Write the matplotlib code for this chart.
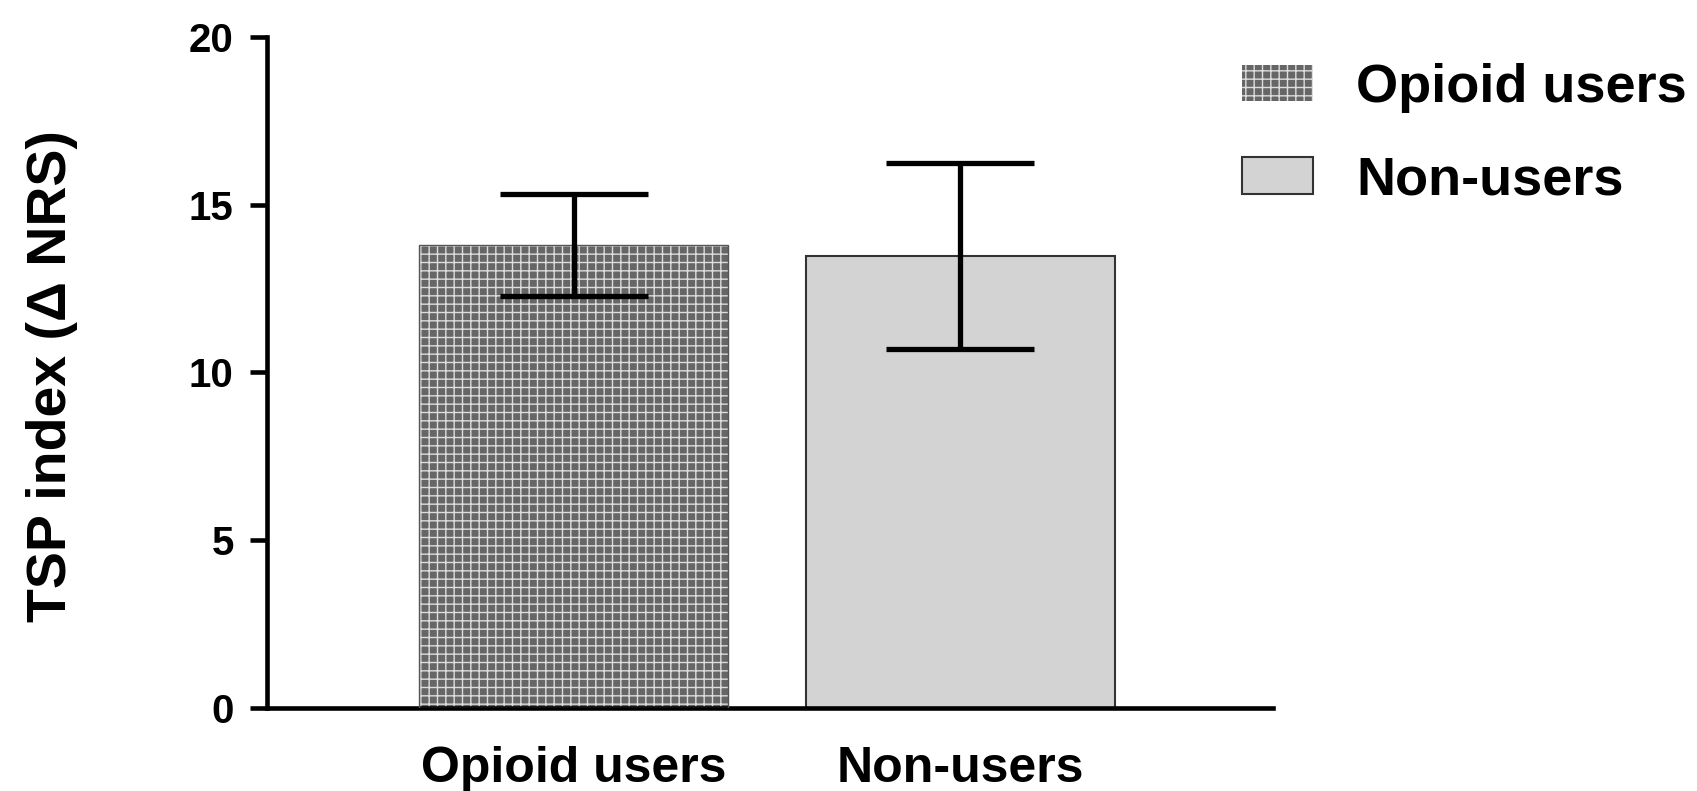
import matplotlib
matplotlib.use("Agg")
import matplotlib.pyplot as plt
from matplotlib.patches import Patch

categories = ["Opioid users", "Non-users"]
means = [13.8, 13.47]
errors = [1.53, 2.78]
yticks = [0, 5, 10, 15, 20]
ylabel = "TSP index (\u0394 NRS)"

plt.rcParams['font.family'] = ['Liberation Sans', 'DejaVu Sans']
plt.rcParams['font.weight'] = 'bold'
plt.rcParams['hatch.linewidth'] = 1.0

W, H = 1697, 791
fig = plt.figure(figsize=(W / 100, H / 100), dpi=100)
ax = fig.add_axes([267 / W, 1 - 708 / H, (1273 - 267) / W, (708 - 37) / H])

x = list(range(len(categories)))
# opioid bar: hatched texture
ax.bar(x[0], means[0], width=0.8, color='#666666', edgecolor='#dddddd',
       hatch='++', linewidth=0, zorder=2)
ax.bar(x[0], means[0], width=0.8, fill=False, edgecolor='#555555', linewidth=1.0, zorder=3)
# non-users
ax.bar(x[1], means[1], width=0.8, color='#d3d3d3', edgecolor='#333333', linewidth=1.5, zorder=2)

ax.errorbar(x, means, yerr=errors, fmt='none', ecolor='black', elinewidth=3.8,
            capsize=53, capthick=3.8, zorder=4)

ax.set_xlim(-0.794, 1.809)
ax.set_ylim(0, 20)
ax.set_yticks(yticks)
ax.set_yticklabels([str(v) for v in yticks], fontsize=29, fontweight='bold')
ax.set_xticks(x)
ax.set_xticklabels(categories, fontsize=36, fontweight='bold')
ax.tick_params(axis='y', length=12, width=3.3, pad=12)
ax.tick_params(axis='x', length=0, pad=27)
for s in ['top', 'right']:
    ax.spines[s].set_visible(False)
for s in ['left', 'bottom']:
    ax.spines[s].set_linewidth(3.3)

fig.text(52 / W, 1 - 376 / H, ylabel, rotation=90, ha='center', va='center',
         fontsize=40, fontweight='bold')

handles = [Patch(facecolor='#666666', edgecolor='#dddddd', hatch='++', linewidth=0),
           Patch(facecolor='#d3d3d3', edgecolor='#333333', linewidth=1.5)]
leg = fig.legend(handles, categories, loc='upper left',
                 bbox_to_anchor=(1242 / W, 1 - 63 / H), frameon=False,
                 prop={'size': 39, 'weight': 'bold'}, handlelength=1.31,
                 handleheight=0.67, handletextpad=0.8, labelspacing=0.78,
                 borderpad=0, borderaxespad=0)

fig.savefig('out.png', dpi=100)
